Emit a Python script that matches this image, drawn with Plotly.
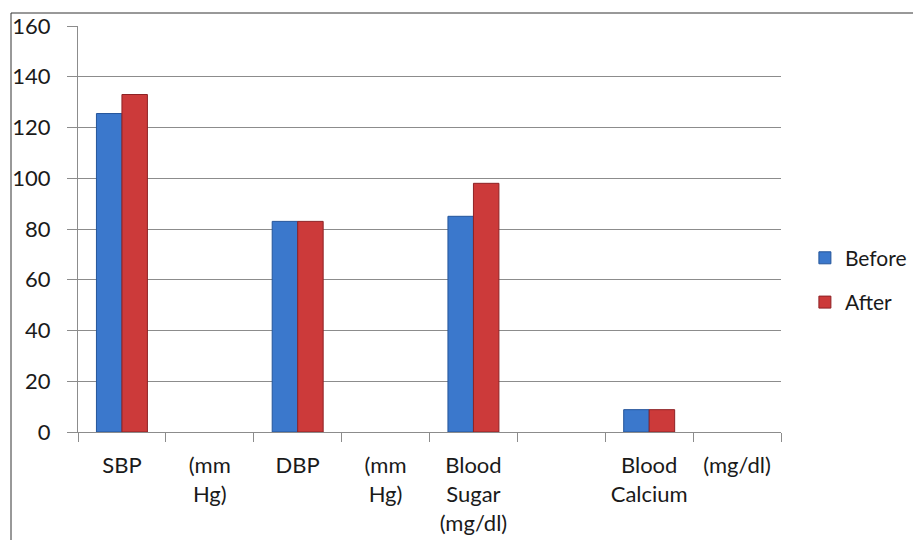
import plotly.graph_objects as go

# Measurements and their before/after means (None = no bar for that slot)
categories = ["SBP", "(mm<br>Hg)", "DBP", "(mm<br>Hg)", "Blood<br>Sugar<br>(mg/dl)", "", "Blood<br>Calcium", "(mg/dl)"]
before = [125.5, None, 83, None, 85, None, 8.8, None]
after = [133, None, 83, None, 98, None, 8.8, None]
y_ticks = [0, 20, 40, 60, 80, 100, 120, 140, 160]

positions = list(range(len(categories)))
boundaries = [p - 0.5 for p in positions] + [positions[-1] + 0.5]

FONT = "Lato, 'Open Sans', sans-serif"
TEXT = "#1a1a1a"
GRID = "#8c8c8c"

fig = go.Figure()
fig.add_trace(go.Bar(
    x=positions, y=before, name="Before",
    marker=dict(color="#3b78cc", line=dict(color="#24549a", width=1)),
    legendgroup="b",
))
fig.add_trace(go.Bar(
    x=positions, y=after, name="After",
    marker=dict(color="#cc3a3a", line=dict(color="#8e2225", width=1)),
    legendgroup="a",
))

fig.update_layout(
    width=913, height=540,
    margin=dict(l=78, r=132, t=26, b=108, autoexpand=False),
    paper_bgcolor="white", plot_bgcolor="white",
    barmode="group", bargap=0.42, bargroupgap=0,
    font=dict(family=FONT, size=21, color=TEXT),
    showlegend=True,
    legend=dict(
        x=1.034, y=0.374, xanchor="left", yanchor="middle",
        traceorder="grouped", tracegroupgap=14,
        font=dict(family=FONT, size=21, color=TEXT),
        itemwidth=30,
    ),
    xaxis=dict(
        range=[-0.5, len(categories) - 0.5],
        tickmode="array", tickvals=positions, ticktext=categories,
        ticks="outside", ticklen=14, tickcolor="rgba(0,0,0,0)",
        showgrid=False, zeroline=False,
        showline=True, linecolor=GRID, linewidth=1,
        minor=dict(tickmode="array", tickvals=boundaries, ticks="outside",
                   ticklen=9, tickcolor=GRID, tickwidth=1, showgrid=False),
        tickfont=dict(family=FONT, size=22, color=TEXT),
        fixedrange=True,
    ),
    yaxis=dict(
        range=[0, 160],
        tickmode="array", tickvals=y_ticks,
        ticks="outside", ticklen=10, tickcolor=GRID, tickwidth=1,
        ticklabelstandoff=12,
        showgrid=True, gridcolor=GRID, gridwidth=1,
        zeroline=False,
        showline=True, linecolor=GRID, linewidth=1,
        tickfont=dict(family=FONT, size=22, color=TEXT),
    ),
)

# Chart frame border
fig.add_shape(type="rect", xref="paper", yref="paper",
              x0=-0.0953, x1=1.3, y0=-0.6, y1=1.032,
              line=dict(color="#333333", width=1), fillcolor="rgba(0,0,0,0)",
              layer="below")

fig.write_html("out.html")
